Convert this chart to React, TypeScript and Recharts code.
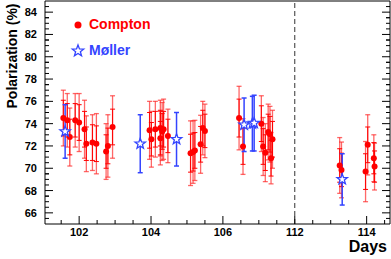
import { ScatterChart, Scatter, XAxis, YAxis, ErrorBar, ReferenceLine } from 'recharts';

// Days (real), polarization (%), stat error, total error
const comptonDay = [
  101.56, 101.67, 101.74, 101.89, 102.0, 102.15, 102.2, 102.37, 102.48, 102.75, 102.8, 102.93,
  103.96, 104.01, 104.12, 104.26, 104.26, 104.31, 104.35, 104.47,
  105.1, 105.17, 105.22, 105.38, 105.44, 105.5,
  106.45, 106.56, 107.07, 107.12, 107.18, 107.26, 107.31, 107.34, 107.38,
  113.25, 113.3, 113.97, 114.03, 114.2, 114.22,
];
const comptonPol = [
  74.5, 74.3, 72.8, 74.3, 74.1, 73.5, 72.2, 72.3, 72.2, 71.5, 72.0, 73.7,
  73.4, 72.6, 73.5, 73.6, 72.7, 73.3, 73.5, 72.9,
  71.35, 71.45, 71.6, 72.15, 73.6, 73.35,
  74.5, 71.95, 74.0, 71.95, 71.4, 73.25, 73.05, 70.9, 72.6,
  70.25, 69.85, 69.7, 72.1, 70.9, 70.15,
];
const comptonStat = [
  1.6, 1.5, 1.6, 1.5, 1.6, 1.6, 1.5, 1.6, 1.6, 1.5, 1.6, 1.6,
  1.6, 1.5, 1.6, 1.6, 1.5, 1.6, 1.6, 1.5,
  1.7, 1.7, 1.6, 1.6, 1.6, 1.5,
  1.7, 1.6, 1.6, 1.6, 1.6, 1.6, 1.6, 1.6, 1.6,
  1.5, 1.5, 1.6, 1.6, 1.4, 1.4,
];
const comptonTot = [
  2.5, 2.4, 2.6, 2.4, 2.6, 2.6, 2.5, 2.5, 2.7, 2.5, 2.8, 2.8,
  2.6, 2.5, 2.5, 2.5, 2.4, 2.6, 2.7, 2.4,
  2.9, 2.8, 2.7, 2.6, 2.4, 2.4,
  2.85, 2.5, 2.5, 2.6, 2.6, 2.5, 2.5, 2.3, 2.6,
  2.5, 2.5, 2.7, 2.7, 2.1, 2.1,
];

const mollerDay = [101.61, 103.7, 104.71, 106.59, 106.82, 106.87, 113.32];
const mollerPol = [73.3, 72.2, 72.6, 73.9, 74.0, 74.05, 69.0];
const mollerErr = [2.4, 2.6, 2.4, 2.4, 2.45, 2.5, 2.3];

// x-axis has a break: days 112+ are drawn 4 days to the left
const BREAK_DAY = 110;
const BREAK_SHIFT = 4;
const xMajor = [102, 104, 106, 108, 110];
const xMinor = [101.5, 102.5, 103, 103.5, 104.5, 105, 105.5, 106.5, 107, 107.5, 108.5, 109, 109.5, 110.5];
const yMajor = [66, 68, 70, 72, 74, 76, 78, 80, 82, 84];
const yMinor = yMajor.flatMap((v) => [v - 0.5, v + 0.5, v + 1, v + 1.5]).filter((v) => v > 65 && v < 85);

const X_DOMAIN: [number, number] = [101.05, 110.65];
const Y_DOMAIN: [number, number] = [65, 85];

const plotX = (d: number) => (d > BREAK_DAY ? d - BREAK_SHIFT : d);
const xLabel = (v: number) => (v >= 108 ? v + BREAK_SHIFT : v);

const compton = comptonDay.map((d, i) => ({
  x: plotX(d),
  y: comptonPol[i],
  stat: comptonStat[i],
  tot: comptonTot[i],
}));
const moller = mollerDay.map((d, i) => ({ x: plotX(d), y: mollerPol[i], err: mollerErr[i] }));

const FONT = '"Liberation Sans", Arial, sans-serif';
const RED = '#ff0000';
const BLUE = '#3344ff';

const isMajor = (v: number) => Math.abs(v / 2 - Math.round(v / 2)) < 1e-6;
const xTicks = [...xMajor, ...xMinor].sort((a, b) => a - b);
const yTicks = [...yMajor, ...yMinor].sort((a, b) => a - b);

function starPath(cx: number, cy: number, R: number, r: number) {
  let d = '';
  for (let k = 0; k < 10; k++) {
    const rad = k % 2 === 0 ? R : r;
    const a = -Math.PI / 2 + (k * Math.PI) / 5;
    d += `${k === 0 ? 'M' : 'L'}${cx + rad * Math.cos(a)},${cy + rad * Math.sin(a)}`;
  }
  return d + 'Z';
}

function Dot({ cx, cy }: any) {
  return <circle cx={cx} cy={cy} r={3} fill={RED} />;
}

function Star({ cx, cy }: any) {
  return <path d={starPath(cx, cy, 5.5, 2.3)} fill="white" stroke={BLUE} strokeWidth={1.3} />;
}

function BottomTick({ x, y, payload }: any) {
  const v = payload.value;
  const major = isMajor(v);
  return (
    <g>
      <line x1={x} x2={x} y1={y} y2={y - (major ? 8 : 4)} stroke="#000" />
      {major && (
        <text x={x} y={y + 12} textAnchor="middle" fontSize={11} fontWeight="bold" fontFamily={FONT} fill="#000">
          {xLabel(v)}
        </text>
      )}
    </g>
  );
}

function TopTick({ x, y, payload }: any) {
  const major = isMajor(payload.value);
  return <line x1={x} x2={x} y1={y} y2={y + (major ? 8 : 4)} stroke="#000" />;
}

function LeftTick({ x, y, payload }: any) {
  const v = payload.value;
  const major = Number.isInteger(v) && v % 2 === 0;
  return (
    <g>
      <line x1={x} x2={x + (major ? 8 : 4)} y1={y} y2={y} stroke="#000" />
      {major && (
        <text x={x - 8} y={y + 4} textAnchor="end" fontSize={11} fontWeight="bold" fontFamily={FONT} fill="#000">
          {v}
        </text>
      )}
    </g>
  );
}

function RightTick({ x, y, payload }: any) {
  const v = payload.value;
  const major = Number.isInteger(v) && v % 2 === 0;
  return <line x1={x} x2={x - (major ? 8 : 4)} y1={y} y2={y} stroke="#000" />;
}

export default function App() {
  return (
    <div style={{ position: 'absolute', left: 0, top: 0, width: 391, height: 259, fontFamily: FONT }}>
      <ScatterChart width={391} height={259} margin={{ top: 0, right: 0, bottom: 0, left: 0 }}>
        <XAxis
          type="number"
          dataKey="x"
          domain={X_DOMAIN}
          allowDataOverflow
          ticks={xTicks}
          interval={0}
          tickSize={0}
          tickMargin={0}
          tickLine={false}
          tick={<BottomTick />}
          axisLine={{ stroke: '#000' }}
          height={35}
        />
        <XAxis
          xAxisId="top"
          orientation="top"
          type="number"
          domain={X_DOMAIN}
          allowDataOverflow
          ticks={xTicks}
          interval={0}
          tickSize={0}
          tickMargin={0}
          tickLine={false}
          tick={<TopTick />}
          axisLine={{ stroke: '#000' }}
          height={1}
        />
        <YAxis
          type="number"
          dataKey="y"
          domain={Y_DOMAIN}
          allowDataOverflow
          ticks={yTicks}
          interval={0}
          tickSize={0}
          tickMargin={0}
          tickLine={false}
          tick={<LeftTick />}
          axisLine={{ stroke: '#000' }}
          width={45}
        />
        <YAxis
          yAxisId="right"
          orientation="right"
          type="number"
          domain={Y_DOMAIN}
          allowDataOverflow
          ticks={yTicks}
          interval={0}
          tickSize={0}
          tickMargin={0}
          tickLine={false}
          tick={<RightTick />}
          axisLine={{ stroke: '#000' }}
          width={1}
        />
        <ReferenceLine x={108} stroke="#333" strokeDasharray="5 3" />
        <Scatter data={compton} shape={<Dot />} isAnimationActive={false}>
          <ErrorBar dataKey="tot" direction="y" width={2.5} stroke="rgba(255,40,40,0.7)" strokeWidth={1.3} />
          <ErrorBar dataKey="stat" direction="y" width={2.5} stroke={RED} strokeWidth={1} />
        </Scatter>
        <Scatter data={moller} shape={<Star />} isAnimationActive={false}>
          <ErrorBar dataKey="err" direction="y" width={2.5} stroke={BLUE} strokeWidth={1.5} />
        </Scatter>
      </ScatterChart>

      <div
        style={{
          position: 'absolute',
          left: 12,
          top: 56,
          transform: 'translate(-50%, -50%) rotate(-90deg)',
          whiteSpace: 'nowrap',
          fontSize: 14,
          fontWeight: 'bold',
        }}
      >
        Polarization (%)
      </div>
      <div style={{ position: 'absolute', right: 4, top: 238, fontSize: 16, fontWeight: 'bold' }}>Days</div>

      <svg style={{ position: 'absolute', left: 70, top: 17 }} width={18} height={42}>
        <circle cx={8} cy={8} r={3.5} fill={RED} />
        <path d={starPath(8, 34, 6, 2.5)} fill="white" stroke={BLUE} strokeWidth={1.3} />
      </svg>
      <div style={{ position: 'absolute', left: 89, top: 16, fontSize: 14, fontWeight: 'bold', color: RED }}>Compton</div>
      <div style={{ position: 'absolute', left: 89, top: 42, fontSize: 14, fontWeight: 'bold', color: BLUE }}>Møller</div>
    </div>
  );
}
